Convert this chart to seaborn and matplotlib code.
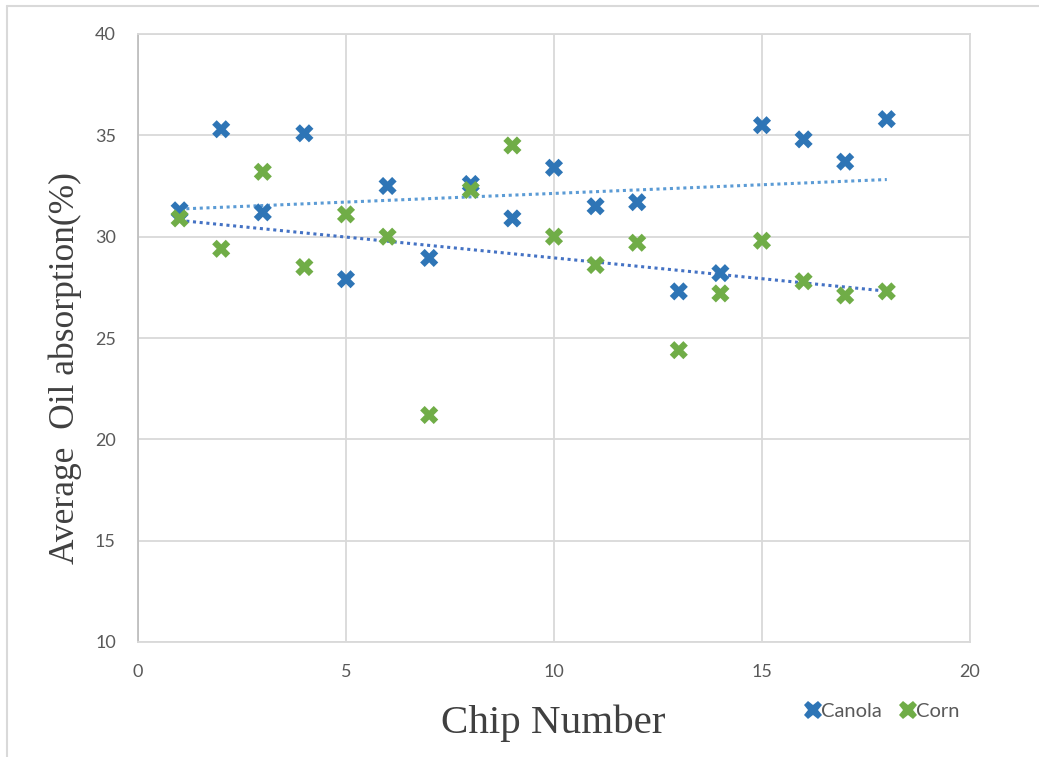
import numpy as np
import pandas as pd
import matplotlib
matplotlib.use("Agg")
import matplotlib.pyplot as plt
from matplotlib.lines import Line2D
import seaborn as sns

# chip numbers and average oil absorption (%)
chips = list(range(1, 19))
canola = [31.3, 35.3, 31.2, 35.1, 27.9, 32.5, 28.95, 32.6, 30.9,
          33.4, 31.5, 31.7, 27.3, 28.2, 35.5, 34.8, 33.7, 35.8]
corn = [30.9, 29.4, 33.2, 28.5, 31.1, 30.0, 21.2, 32.3, 34.5,
        30.0, 28.6, 29.7, 24.4, 27.2, 29.8, 27.8, 27.1, 27.3]

df = pd.DataFrame({
    "chip": chips * 2,
    "absorption": canola + corn,
    "oil": ["Canola"] * len(chips) + ["Corn"] * len(chips),
})

sns.set_style("white")
plt.rcParams["font.family"] = ["Lato", "DejaVu Sans"]

fig = plt.figure(figsize=(10.39, 7.57), dpi=100)
ax = fig.add_axes([138 / 1039, 1 - 642 / 757, (970 - 138) / 1039, (642 - 34) / 757])

blue = "#2E75B6"
green = "#70AD47"
grid = "#D9D9D9"
txt = "#595959"

# trendlines (linear fits)
sns.regplot(x=chips, y=canola, ax=ax, scatter=False, ci=None, truncate=True,
            line_kws={"color": "#5B9BD5", "linestyle": (0, (1, 1.2)), "linewidth": 2.2})
sns.regplot(x=chips, y=corn, ax=ax, scatter=False, ci=None, truncate=True,
            line_kws={"color": "#4472C4", "linestyle": (0, (1, 1.2)), "linewidth": 2.2})

sns.scatterplot(data=df, x="chip", y="absorption", hue="oil", ax=ax,
                palette={"Canola": blue, "Corn": green}, marker="X",
                s=170, linewidth=0, legend=False, zorder=3)

ax.set_xlim(0, 20)
ax.set_ylim(10, 40)
ax.set_xticks([0, 5, 10, 15, 20])
ax.set_yticks([10, 15, 20, 25, 30, 35, 40])
ax.grid(True, color=grid, linewidth=1.3)
ax.set_axisbelow(True)
for sp in ax.spines.values():
    sp.set_color(grid)
    sp.set_linewidth(1.3)
ax.spines["left"].set_color("#BFBFBF")
ax.tick_params(length=0, labelsize=13, labelcolor=txt, pad=16)

ax.set_xlabel("")
ax.set_ylabel("")
fig.text(553 / 1039, 1 - 723 / 757, "Chip Number", ha="center", va="center",
         family="Liberation Serif", fontsize=29.5, color="#404040")
fig.text(65 / 1039, 1 - 368 / 757, "Average  Oil absorption(%)", ha="center", va="center",
         rotation=90, family="Liberation Serif", fontsize=25.5, color="#404040")

handles = [
    Line2D([], [], marker="X", linestyle="", color=blue, markersize=13, markeredgewidth=0),
    Line2D([], [], marker="X", linestyle="", color=green, markersize=13, markeredgewidth=0),
]
fig.legend(handles, ["Canola", "Corn"], ncol=2, frameon=False, loc="center",
           bbox_to_anchor=(880 / 1039, 1 - 711 / 757), handletextpad=-0.2,
           columnspacing=0.7, handlelength=1.2, fontsize=14.5, labelcolor=txt)

# outer chart border (only left and top visible in the crop)
fig.add_artist(Line2D([7 / 1039, 7 / 1039], [0, 1 - 6 / 757], color=grid, linewidth=1.5))
fig.add_artist(Line2D([7 / 1039, 1], [1 - 6 / 757, 1 - 6 / 757], color=grid, linewidth=1.5))

fig.savefig("out.png", dpi=100)
